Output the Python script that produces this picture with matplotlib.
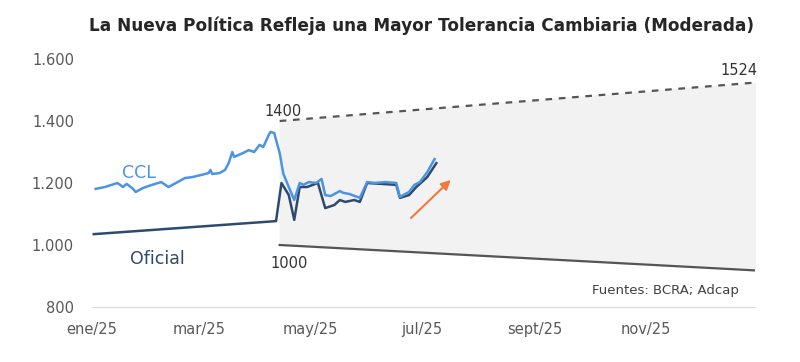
import numpy as np
import pandas as pd
import matplotlib.pyplot as plt
from matplotlib.ticker import FuncFormatter

# Data
ccl_dates = ["2025-01-03", "2025-01-08", "2025-01-15", "2025-01-18", "2025-01-20", "2025-01-23",
             "2025-01-25", "2025-01-29", "2025-02-03", "2025-02-08", "2025-02-12", "2025-02-17",
             "2025-02-21", "2025-02-25", "2025-03-02", "2025-03-06", "2025-03-07", "2025-03-08",
             "2025-03-12", "2025-03-15", "2025-03-17", "2025-03-19", "2025-03-20", "2025-03-25",
             "2025-03-28", "2025-03-31", "2025-04-03", "2025-04-05", "2025-04-08", "2025-04-09",
             "2025-04-11", "2025-04-14", "2025-04-16", "2025-04-19", "2025-04-22", "2025-04-25",
             "2025-04-27", "2025-04-30", "2025-05-04", "2025-05-07", "2025-05-09", "2025-05-12",
             "2025-05-17", "2025-05-19", "2025-05-22", "2025-05-28", "2025-06-01", "2025-06-05",
             "2025-06-11", "2025-06-17", "2025-06-19", "2025-06-24", "2025-06-27", "2025-06-30",
             "2025-07-04", "2025-07-08"]
ccl_values = [1181, 1187, 1200, 1187, 1197, 1184, 1171, 1184, 1194, 1203, 1187, 1203,
              1216, 1219, 1226, 1232, 1242, 1229, 1232, 1242, 1264, 1300, 1284, 1297,
              1306, 1300, 1323, 1316, 1355, 1365, 1361, 1297, 1230, 1187, 1145, 1200,
              1194, 1203, 1200, 1213, 1161, 1158, 1174, 1168, 1165, 1152, 1203, 1200,
              1203, 1200, 1155, 1171, 1194, 1203, 1235, 1277]

oficial_dates = ["2025-01-02", "2025-04-12", "2025-04-15", "2025-04-19", "2025-04-22", "2025-04-25",
                 "2025-04-29", "2025-05-05", "2025-05-09", "2025-05-14", "2025-05-17", "2025-05-20",
                 "2025-05-25", "2025-05-28", "2025-06-01", "2025-06-17", "2025-06-19", "2025-06-24",
                 "2025-06-28", "2025-07-04", "2025-07-09"]
oficial_values = [1035, 1077, 1200, 1161, 1081, 1187, 1187, 1200, 1119, 1129, 1145, 1139,
                  1145, 1139, 1200, 1194, 1152, 1161, 1187, 1219, 1264]

band_dates = ["2025-04-14", "2025-12-31"]
band_upper = [1400, 1524]
band_lower = [1000, 918]

arrow_dates = ["2025-06-24", "2025-07-18"]
arrow_values = [1081, 1216]

tick_dates = ["2025-01-01", "2025-03-01", "2025-05-01", "2025-07-01", "2025-09-01", "2025-11-01"]
tick_labels = ["ene/25", "mar/25", "may/25", "jul/25", "sept/25", "nov/25"]

ccl_x = pd.to_datetime(ccl_dates)
of_x = pd.to_datetime(oficial_dates)
band_x = pd.to_datetime(band_dates)
arr_x = pd.to_datetime(arrow_dates)

ccl_color = "#4a94e6"
of_color = "#2e4a6e"
grey_txt = "#595959"

fig = plt.figure(figsize=(8, 3.62), dpi=100)
ax = fig.add_axes([0.115, 0.152, 0.829, 0.685])

# Band
ax.fill_between(band_x, band_lower, band_upper, color="#f2f2f2", zorder=0)
ax.plot(band_x, band_upper, color="#555555", linestyle=(0, (3, 3)), linewidth=1.6, zorder=1)
ax.plot(band_x, band_lower, color="#555555", linewidth=1.6, zorder=1)

# Series
ax.plot(of_x, oficial_values, color=of_color, linewidth=1.8, zorder=2)
ax.plot(ccl_x, ccl_values, color=ccl_color, linewidth=1.8, zorder=3)

ax.annotate("", xy=(arr_x[1], arrow_values[1]), xytext=(arr_x[0], arrow_values[0]),
            arrowprops=dict(arrowstyle="-|>", color="#f07a3a", lw=1.5, mutation_scale=14))

# Labels
ax.text(pd.Timestamp("2025-01-27"), 1232, "CCL", color=ccl_color, fontsize=12.5, ha="center", va="center")
ax.text(pd.Timestamp("2025-02-06"), 955, "Oficial", color=of_color, fontsize=12.5, ha="center", va="center")
ax.text(pd.Timestamp("2025-04-16"), 1432, "1400", color="#333333", fontsize=10.5, ha="center", va="center")
ax.text(pd.Timestamp("2025-04-19"), 940, "1000", color="#333333", fontsize=10.5, ha="center", va="center")
ax.text(pd.Timestamp("2025-12-22"), 1562, "1524", color="#333333", fontsize=10.5, ha="center", va="center")
ax.text(pd.Timestamp("2025-12-22"), 852, "Fuentes: BCRA; Adcap", color="#404040", fontsize=9.5,
        ha="right", va="center")

ax.set_ylim(800, 1600)
ax.set_xlim(pd.Timestamp("2025-01-01"), pd.Timestamp("2025-12-31"))
ax.set_yticks([800, 1000, 1200, 1400, 1600])
ax.yaxis.set_major_formatter(FuncFormatter(lambda v, p: f"{int(v):,}".replace(",", ".")))
ax.set_xticks(pd.to_datetime(tick_dates))
ax.set_xticklabels(tick_labels)

for s in ["top", "right", "left"]:
    ax.spines[s].set_visible(False)
ax.spines["bottom"].set_color("#d9d9d9")
ax.tick_params(length=0, labelsize=10.5, colors=grey_txt)
ax.tick_params(axis="y", pad=13)
ax.tick_params(axis="x", pad=11)

fig.suptitle("La Nueva Política Refleja una Mayor Tolerancia Cambiaria (Moderada)",
             x=0.527, y=0.955, fontsize=12.2, fontweight="bold", color="#262626")

fig.savefig("out.png", dpi=100, facecolor="white")
